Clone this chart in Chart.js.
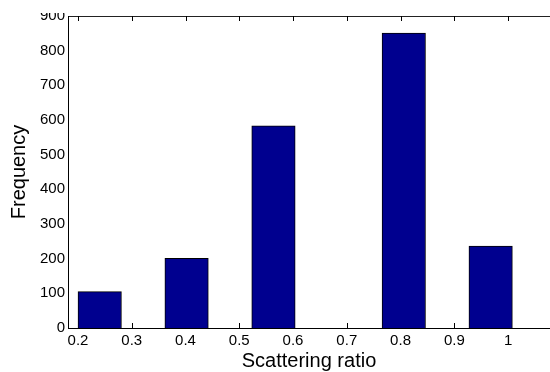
<!DOCTYPE html>
<html lang="en">
  <head>
    <meta charset="UTF-8" />
    <title>Scattering ratio histogram</title>
    <style>
      body {
        margin: 0;
        padding: 0;
        background-color: #fff;
      }
      .chart-box {
        position: relative;
        width: 550px;
        height: 372px;
      }
    </style>
  </head>
  <body>
    <div class="chart-box">
      <canvas id="hist-chart"></canvas>
    </div>

    <script src="https://cdn.jsdelivr.net/npm/chart.js@4/dist/chart.umd.min.js"></script>
    <script>
      // bin centres (10 bins) and counts
      const binCenters = [0.2404, 0.3212, 0.402, 0.4828, 0.5636, 0.6444, 0.7252, 0.806, 0.8868, 0.9676];
      const counts = [105, 0, 201, 0, 583, 0, 0, 851, 0, 236];
      const xTicks = [0.2, 0.3, 0.4, 0.5, 0.6, 0.7, 0.8, 0.9, 1];
      const yTicks = [0, 100, 200, 300, 400, 500, 600, 700, 800, 900];

      const fontFamily = "'Liberation Sans', Arial, sans-serif";
      Chart.defaults.color = "#000";
      Chart.defaults.font.family = fontFamily;

      // matlab style ticks, pointing into the plot
      const innerTicks = {
        id: "innerTicks",
        beforeDatasetsDraw(chart) {
          const { ctx, chartArea, scales } = chart;
          const len = 5;
          ctx.save();
          ctx.strokeStyle = "#000";
          ctx.lineWidth = 1;
          ctx.beginPath();
          xTicks.forEach((v) => {
            const px = Math.round(scales.x.getPixelForValue(v)) + 0.5;
            ctx.moveTo(px, chartArea.bottom);
            ctx.lineTo(px, chartArea.bottom - len);
            ctx.moveTo(px, chartArea.top);
            ctx.lineTo(px, chartArea.top + len);
          });
          ctx.stroke();
          ctx.restore();
        },
        afterDraw(chart) {
          // the figure is cut just above the plot box
          const { ctx, chartArea } = chart;
          ctx.clearRect(0, 0, chartArea.left - 1, chartArea.top - 3);
        },
      };

      const ctx = document.getElementById("hist-chart").getContext("2d");
      const chart = new Chart(ctx, {
        type: "bar",
        data: {
          datasets: [
            {
              data: binCenters.map((c, i) => ({ x: c, y: counts[i] })),
              backgroundColor: "#00008f",
              borderColor: "#000",
              borderWidth: 1,
              barPercentage: 1,
              categoryPercentage: 1,
            },
          ],
        },
        options: {
          responsive: true,
          maintainAspectRatio: false,
          animation: false,
          layout: { padding: { top: 16, right: 0, left: 0, bottom: 0 } },
          plugins: {
            legend: { display: false },
            tooltip: { enabled: false },
          },
          scales: {
            x: {
              type: "linear",
              position: "bottom",
              offset: false,
              min: 0.1814,
              max: 1.078,
              grid: { display: false, drawTicks: false },
              border: { display: true, color: "#000", width: 1 },
              afterBuildTicks: (scale) => {
                scale.ticks = xTicks.map((v) => ({ value: v }));
              },
              afterFit: (scale) => {
                scale.height = 44;
              },
              ticks: {
                padding: 4,
                maxRotation: 0,
                autoSkip: false,
                font: { size: 15 },
                callback: (v) => String(Math.round(v * 10) / 10),
              },
              title: {
                display: true,
                text: "Scattering ratio",
                font: { size: 20, lineHeight: 1.1 },
                padding: { top: 0, bottom: 0 },
              },
            },
            xTop: {
              type: "linear",
              position: "top",
              offset: false,
              min: 0.1814,
              max: 1.078,
              grid: { display: false, drawTicks: false },
              border: { display: true, color: "#222", width: 1 },
              ticks: { display: false },
              afterFit: (scale) => {
                scale.height = 0;
              },
            },
            y: {
              min: 0,
              max: 900,
              grid: { display: false, drawTicks: false },
              border: { display: true, color: "#000", width: 1 },
              afterBuildTicks: (scale) => {
                scale.ticks = yTicks.map((v) => ({ value: v }));
              },
              afterFit: (scale) => {
                scale.width = 68;
              },
              ticks: {
                padding: 3,
                font: { size: 15 },
              },
              title: {
                display: true,
                text: "Frequency",
                font: { size: 20, lineHeight: 1.2 },
                padding: { top: 7, bottom: 0 },
              },
            },
          },
        },
        plugins: [innerTicks],
      });
    </script>
  </body>
</html>
